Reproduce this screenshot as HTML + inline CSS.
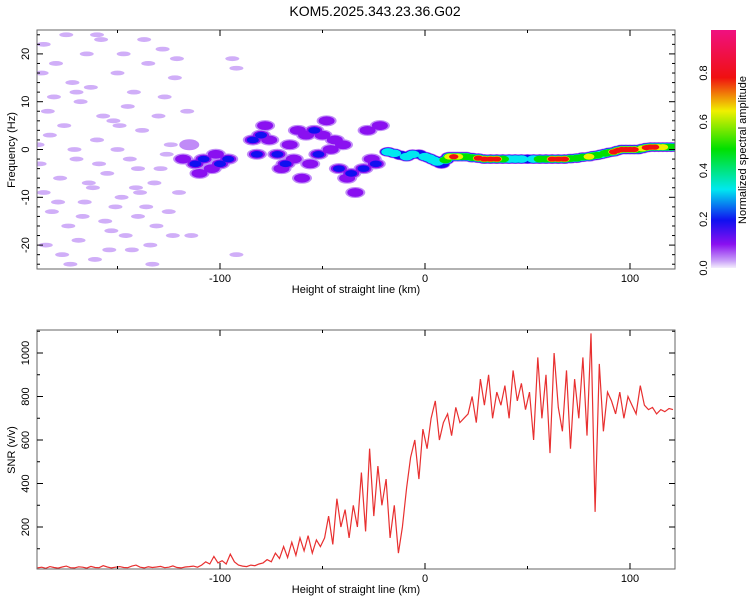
<!DOCTYPE html>
<html><head><meta charset="utf-8"><style>
body{margin:0;background:#fff;font-family:"Liberation Sans",sans-serif}
svg text{font-family:"Liberation Sans",sans-serif;font-size:11px;fill:#000}
</style></head><body>
<svg id="svg" width="750" height="600" xmlns="http://www.w3.org/2000/svg">
<defs>
<linearGradient id="cmap" x1="0" y1="1" x2="0" y2="0">
<stop offset="0" stop-color="#f4eefc"/><stop offset="0.03" stop-color="#c9a0f8"/>
<stop offset="0.1" stop-color="#8a10f0"/><stop offset="0.2" stop-color="#1010f0"/>
<stop offset="0.33" stop-color="#00e8f0"/><stop offset="0.5" stop-color="#00e000"/>
<stop offset="0.66" stop-color="#f0f000"/><stop offset="0.8" stop-color="#f01010"/>
<stop offset="1" stop-color="#f01080"/></linearGradient>
<clipPath id="c1"><rect x="37" y="30" width="638" height="239"/></clipPath>
<clipPath id="c2"><rect x="37" y="330" width="638" height="239"/></clipPath>
</defs>
<text x="375" y="16" text-anchor="middle" style="font-size:14px">KOM5.2025.343.23.36.G02</text>
<g id="spec" clip-path="url(#c1)"></g>
<g id="snr" clip-path="url(#c2)"></g>
<g id="axes"></g>
<rect x="711" y="30" width="25" height="238" fill="url(#cmap)"/>
<g id="cbar"></g>
</svg>
<script>
// ---- data ----
const snrStart = -189, snrStep = 2;
const snrValues = [12,15,10,18,14,11,16,20,13,12,17,15,11,19,14,13,22,16,12,15,18,14,13,20,25,15,12,17,14,16,19,13,15,21,14,12,16,18,20,15,
25,40,30,65,35,45,30,75,40,25,
20,18,25,22,30,
35,50,40,80,55,110,60,130,70,150,90,160,80,140,110,
150,250,120,330,200,280,150,300,
200,450,180,560,250,480,300,
420,150,300,80,200,
380,520,600,420,650,
560,700,780,600,680,720,620,750,680,700,
720,800,680,880,760,900,700,820,760,850,700,920,780,860,740,
820,600,980,700,900,540,1000,750,640,920,560,880,700,980,620,1090,270,950,640,820,
780,720,820,700,800,760,720,850,760,740,
750,720,740,730,745,740];
// ridge: km, freq, amplitude
const ridgeKm   = [-18,-15,-12,-9,-6,-3,0,2,4,6,8,10,12,14,16,18,20,23,26,29,32,35,38,41,44,47,50,53,56,59,62,65,68,71,74,77,80,82,84,86,88,90,92,94,96,98,100,102,104,106,108,110,112,114,116,118,120,122];
const ridgeFreq = [-0.5,-0.8,-1.2,-1.5,-1,-1,-1.5,-1.8,-2.2,-2.6,-3,-2.2,-1.5,-1.5,-1.5,-1.5,-1.5,-1.7,-1.8,-2,-2,-2,-2,-2,-2,-2,-2,-2,-2,-2,-2,-2,-2,-1.9,-1.8,-1.6,-1.5,-1.3,-1.2,-1,-0.8,-0.6,-0.5,-0.2,0,0,0,0,0,0.2,0.4,0.5,0.5,0.5,0.5,0.5,0.5,0.5];
const ridgeAmp  = [0.45,0.35,0.3,0.4,0.35,0.3,0.35,0.4,0.45,0.35,0.3,0.5,0.7,0.8,0.75,0.5,0.5,0.6,0.85,0.9,0.9,0.85,0.6,0.4,0.4,0.35,0.3,0.4,0.5,0.6,0.85,0.9,0.9,0.6,0.5,0.55,0.7,0.6,0.5,0.45,0.55,0.6,0.8,0.9,0.9,0.9,0.9,0.85,0.6,0.7,0.8,0.85,0.8,0.7,0.7,0.65,0.6,0.6];
// purple clusters: km, freq, amp
const clusKm   = [-118,-112,-108,-104,-100,-96,-110,-84,-80,-76,-82,-72,-68,-64,-70,-58,-54,-50,-56,-52,-44,-40,-36,-42,-38,-30,-26,-22,-28,-24,-34,-60,-46,-115,-102,-78,-66,-62,-48];
const clusFreq = [-2,-3,-2,-4,-3,-2,-5,2,3,2,-1,-1,-3,-2,-4,3,4,3,-3,-1,2,1,-5,-4,-6,-4,-2,5,4,-3,-9,-6,0,1,-1,5,1,4,6];
const clusAmp  = [0.15,0.2,0.25,0.15,0.2,0.3,0.12,0.2,0.25,0.15,0.2,0.2,0.25,0.15,0.18,0.15,0.2,0.15,0.18,0.2,0.15,0.12,0.2,0.25,0.15,0.2,0.15,0.12,0.15,0.2,0.15,0.12,0.1,0.08,0.1,0.1,0.12,0.1,0.1];
// faint noise: km, freq
const noiseKm   = [-186,-180,-172,-165,-158,-150,-142,-135,-128,-122,-184,-176,-168,-160,-152,-145,-138,-130,-124,-188,-178,-170,-162,-155,-148,-140,-132,-126,-182,-174,-166,-156,-146,-136,-120,-185,-177,-169,-161,-153,-143,-133,-92,-94,-116,-114,-92,-150,-140,-170,-187,-181,-175,-163,-157,-147,-137,-127,-121,-183,-171,-159,-149,-139,-129,-186,-167,-154,-144,-134,-125,-179,-164,-151,-141,-131,-123,-189,-173,-160];
const noiseFreq = [22,18,14,20,23,16,12,18,21,15,8,5,10,2,6,9,4,7,1,-3,-6,-2,-8,-5,-10,-4,-7,-1,-13,-16,-11,-15,-18,-12,-9,-20,-22,-19,-23,-17,-21,-24,17,19,8,-18,-22,0,-14,12,16,11,24,13,7,20,23,11,19,3,0,-3,5,-9,-4,-9,-14,-21,-2,-20,-13,-11,-7,-12,-8,-16,-18,1,-24,24];

// ---- scales ----
const X = km => 425 + 2.05*km;
const YF = f => 149.5 - 4.78*f;
const YS = v => 570.5 - 0.2175*v;
const NS = 'http://www.w3.org/2000/svg';
function el(tag, attrs, parent){const e=document.createElementNS(NS,tag);for(const k in attrs)e.setAttribute(k,attrs[k]);parent.appendChild(e);return e;}
function cmap(a){
  const st=[[0,[244,238,252]],[0.03,[201,160,248]],[0.1,[138,16,240]],[0.2,[16,16,240]],[0.33,[0,232,240]],[0.5,[0,224,0]],[0.66,[240,240,0]],[0.8,[240,16,16]],[1,[240,16,128]]];
  for(let i=1;i<st.length;i++){if(a<=st[i][0]){const t=(a-st[i-1][0])/(st[i][0]-st[i-1][0]);const c=st[i-1][1].map((v,j)=>Math.round(v+(st[i][1][j]-v)*t));return `rgb(${c})`;}}
  return 'rgb(240,16,128)';
}
const spec=document.getElementById('spec');
const levels=[0.04,0.1,0.2,0.33,0.5,0.66,0.8,0.95];
function blobs(kms,fs,amps,rx,ry,shrink,name){
  for(let li=0;li<levels.length;li++){
    const s=Math.max(0.3,1-li*shrink);
    kms.forEach((k,i)=>{
      if(amps[i]<levels[li] && li>0) return;
      const e=el('ellipse',{cx:X(k),cy:YF(fs[i]),rx:rx*s,ry:ry*s,fill:cmap(levels[li])},spec);
      
      
    });
  }
}
noiseKm.forEach((k,i)=>{
  const e=el('ellipse',{cx:X(k),cy:YF(noiseFreq[i]),rx:7,ry:2.4,fill:'#d0aef8'},spec);
  
  
});
blobs(clusKm,clusFreq,clusAmp,10,5.5,0.2,'cluster-blob');
blobs(ridgeKm,ridgeFreq,ridgeAmp,9,5,0.08,'ridge-blob');

// SNR line
const snr=document.getElementById('snr');
const pts=snrValues.map((v,i)=>X(snrStart+i*snrStep).toFixed(1)+','+YS(v).toFixed(1)).join(' ');
const pl=el('polyline',{points:pts,fill:'none',stroke:'#e83030','stroke-width':1.2},snr);



// axes
const ax=document.getElementById('axes');
function txt(x,y,s,rot,name,anchor){
  const t=el('text',{x:x,y:y,'text-anchor':anchor||'middle'},ax);
  if(rot)t.setAttribute('transform',`rotate(-90 ${x} ${y})`);
  t.textContent=s;
  
  
}
function frame(y0,h){el('rect',{x:37,y:y0,width:638,height:h,fill:'none',stroke:'#666'},ax);}
frame(30,239);frame(330,239);
const xTicks=[-100,0,100], xMinor=[-150,-50,50];
[[30,269],[330,569]].forEach(([t,b])=>{
  xTicks.forEach(k=>{el('line',{x1:X(k),x2:X(k),y1:b,y2:b-6,stroke:'#000'},ax);el('line',{x1:X(k),x2:X(k),y1:t,y2:t+6,stroke:'#000'},ax);txt(X(k),b+13,String(k),0,'x-tick-label');});
  xMinor.forEach(k=>{el('line',{x1:X(k),x2:X(k),y1:b,y2:b-3,stroke:'#000'},ax);el('line',{x1:X(k),x2:X(k),y1:t,y2:t+3,stroke:'#000'},ax);});
  txt(356,b+24,'Height of straight line (km)',0,'x-axis-title');
});
const fTicks=[20,10,0,-10,-20];
for(let f=-24;f<=24;f+=2){const L=f%10===0?6:3;el('line',{x1:37,x2:37+L,y1:YF(f),y2:YF(f),stroke:'#000'},ax);el('line',{x1:675,x2:675-L,y1:YF(f),y2:YF(f),stroke:'#000'},ax);}
fTicks.forEach(f=>txt(29,YF(f),String(f),1,'y-tick-label'));
txt(15,150,'Frequency (Hz)',1,'y-axis-title');
const sTicks=[200,400,600,800,1000];
for(let v=100;v<=1100;v+=100){const L=v%200===0?6:3;el('line',{x1:37,x2:37+L,y1:YS(v),y2:YS(v),stroke:'#000'},ax);el('line',{x1:675,x2:675-L,y1:YS(v),y2:YS(v),stroke:'#000'},ax);}
sTicks.forEach(v=>txt(29,YS(v),String(v),1,'y-tick-label'));
txt(15,450,'SNR (v/v)',1,'y-axis-title');
// colorbar ticks
const cb=document.getElementById('cbar');
const cTicks=[0.0,0.2,0.4,0.6,0.8];
cTicks.forEach(c=>{const y=268-243.75*c;const t=el('text',{x:707,y:y,'text-anchor':'middle',transform:`rotate(-90 707 ${y})`},cb);t.textContent=c.toFixed(1);

});
const ct=el('text',{x:746,y:150,'text-anchor':'middle',transform:'rotate(-90 746 150)'},cb);ct.textContent='Normalized spectral amplitude';


</script>
</body></html>
